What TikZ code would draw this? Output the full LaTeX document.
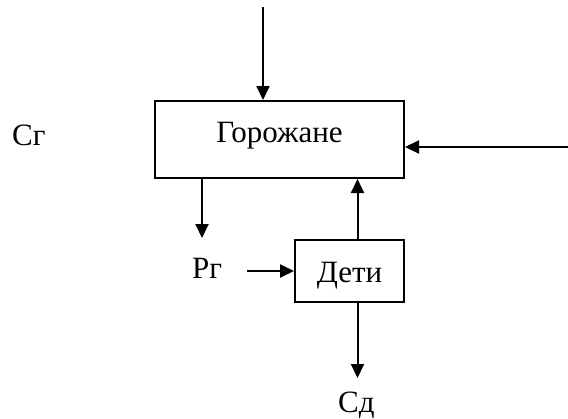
\documentclass[tikz,border=0pt]{standalone}
\usepackage{fontspec}
\setmainfont{Liberation Serif}
\usetikzlibrary{arrows.meta}
\begin{document}
\begin{tikzpicture}[x=1pt,y=-1pt,
  box/.style={draw,line width=2pt,inner sep=0pt,font=\fontsize{31}{36}\selectfont},
  lbl/.style={inner sep=0pt,anchor=base west,font=\fontsize{31}{36}\selectfont},
  arr/.style={line width=2pt,-{Triangle[length=14pt,width=13pt]}}]
\useasboundingbox (0,0) rectangle (568,418);
\node[box,minimum width=249pt,minimum height=77pt,text height=20pt,text depth=15pt] (gor) at (279.5,139.5) {Горожане};
\node[box,minimum width=109pt,minimum height=62pt,text height=22pt,text depth=0pt] (deti) at (349.5,271) {Дети};
\node[lbl] (cg) at (12,145) {Сг};
\node[lbl] (pg) at (192,278) {Рг};
\node[lbl] (cd) at (338,412) {Сд};
\coordinate (topin) at (263,7);
\coordinate (rin) at (568,147);
\coordinate (pgtip) at (202,238);
\coordinate (pgstart) at (247,271);
\coordinate (cdtip) at (357.5,378);
\coordinate (mid) at (357.5,271);
\draw[arr] (topin) -- (topin |- gor.north);
\draw[arr] (rin) -- (rin -| gor.east);
\draw[arr] (pgtip |- gor.south) -- (pgtip);
\draw[arr] (pgstart) -- (pgstart -| deti.west);
\draw[arr] (mid |- deti.north) -- (mid |- gor.south);
\draw[arr] (mid |- deti.south) -- (cdtip);
\end{tikzpicture}
\end{document}
